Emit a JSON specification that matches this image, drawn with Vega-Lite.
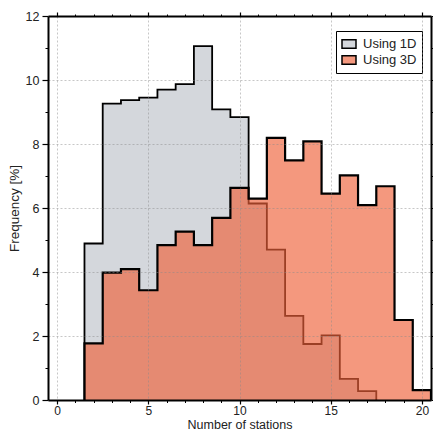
{
  "$schema": "https://vega.github.io/schema/vega-lite/v6.json",
  "autosize": {"type": "none"},
  "padding": {"left": 48, "top": 16, "right": 2, "bottom": 34},
  "width": 383,
  "height": 384,
  "background": "white",
  "config": {
    "view": {"stroke": null},
    "font": "Liberation Sans",
    "axis": {"labelFont": "Liberation Sans", "titleFont": "Liberation Sans", "labelColor": "#222", "titleColor": "#222", "titleFontWeight": "normal"}
  },
  "datasets": {
    "hist": [
      {"method": "1D", "i": 0, "x": 1.5, "freq": 0},
      {"method": "1D", "i": 1, "x": 1.5, "freq": 4.89},
      {"method": "1D", "i": 2, "x": 2.5, "freq": 9.26},
      {"method": "1D", "i": 3, "x": 3.5, "freq": 9.37},
      {"method": "1D", "i": 4, "x": 4.5, "freq": 9.45},
      {"method": "1D", "i": 5, "x": 5.5, "freq": 9.70},
      {"method": "1D", "i": 6, "x": 6.5, "freq": 9.87},
      {"method": "1D", "i": 7, "x": 7.5, "freq": 11.06},
      {"method": "1D", "i": 8, "x": 8.5, "freq": 9.08},
      {"method": "1D", "i": 9, "x": 9.5, "freq": 8.84},
      {"method": "1D", "i": 10, "x": 10.5, "freq": 6.14},
      {"method": "1D", "i": 11, "x": 11.5, "freq": 4.70},
      {"method": "1D", "i": 12, "x": 12.5, "freq": 2.63},
      {"method": "1D", "i": 13, "x": 13.5, "freq": 1.75},
      {"method": "1D", "i": 14, "x": 14.5, "freq": 2.02},
      {"method": "1D", "i": 15, "x": 15.5, "freq": 0.66},
      {"method": "1D", "i": 16, "x": 16.5, "freq": 0.28},
      {"method": "1D", "i": 17, "x": 17.5, "freq": 0},
      {"method": "3D", "i": 0, "x": 1.5, "freq": 0},
      {"method": "3D", "i": 1, "x": 1.5, "freq": 1.77},
      {"method": "3D", "i": 2, "x": 2.5, "freq": 3.98},
      {"method": "3D", "i": 3, "x": 3.5, "freq": 4.09},
      {"method": "3D", "i": 4, "x": 4.5, "freq": 3.43},
      {"method": "3D", "i": 5, "x": 5.5, "freq": 4.84},
      {"method": "3D", "i": 6, "x": 6.5, "freq": 5.26},
      {"method": "3D", "i": 7, "x": 7.5, "freq": 4.84},
      {"method": "3D", "i": 8, "x": 8.5, "freq": 5.69},
      {"method": "3D", "i": 9, "x": 9.5, "freq": 6.63},
      {"method": "3D", "i": 10, "x": 10.5, "freq": 6.29},
      {"method": "3D", "i": 11, "x": 11.5, "freq": 8.19},
      {"method": "3D", "i": 12, "x": 12.5, "freq": 7.49},
      {"method": "3D", "i": 13, "x": 13.5, "freq": 8.08},
      {"method": "3D", "i": 14, "x": 14.5, "freq": 6.45},
      {"method": "3D", "i": 15, "x": 15.5, "freq": 7.02},
      {"method": "3D", "i": 16, "x": 16.5, "freq": 6.09},
      {"method": "3D", "i": 17, "x": 17.5, "freq": 6.68},
      {"method": "3D", "i": 18, "x": 18.5, "freq": 2.50},
      {"method": "3D", "i": 19, "x": 19.5, "freq": 0.31},
      {"method": "3D", "i": 20, "x": 20.5, "freq": 0}
    ],
    "legendrows": [
      {"k": "Using 1D"},
      {"k": "Using 3D"}
    ]
  },
  "layer": [
    {
      "data": {"name": "hist"},
      "transform": [{"filter": "datum.method === '1D' && datum.i > 0"}],
      "mark": {"type": "area", "interpolate": "step-after", "color": "#d4d7dc", "opacity": 1, "clip": true},
      "encoding": {
        "x": {"field": "x", "type": "quantitative", "scale": {"domain": [-0.5, 20.5], "nice": false, "zero": false},
          "axis": {"orient": "bottom", "values": [0, 5, 10, 15, 20], "title": "Number of stations", "titleFontSize": 12.5, "titlePadding": 2,
            "labelFontSize": 12, "labelPadding": 1, "tickSize": 4, "tickColor": "black", "tickWidth": 1.2,
            "domainColor": "black", "domainWidth": 2, "grid": true, "gridColor": "#888", "gridDash": [2, 2], "gridOpacity": 0.6, "gridWidth": 0.8, "zindex": 1}},
        "y": {"field": "freq", "type": "quantitative", "stack": null, "scale": {"domain": [0, 12], "nice": false},
          "axis": {"orient": "left", "values": [0, 2, 4, 6, 8, 10, 12], "title": "Frequency [%]", "titleFontSize": 13.5, "titlePadding": 4,
            "labelFontSize": 12.5, "labelPadding": 3, "tickSize": 6, "tickColor": "black", "tickWidth": 1.2,
            "domainColor": "black", "domainWidth": 2, "grid": true, "gridColor": "#888", "gridDash": [2, 2], "gridOpacity": 0.6, "gridWidth": 0.8, "zindex": 1}}
      }
    },
    {
      "data": {"name": "hist"},
      "transform": [{"filter": "datum.method === '1D'"}],
      "mark": {"type": "line", "interpolate": "step-after", "color": "black", "strokeWidth": 1.8, "clip": true},
      "encoding": {
        "x": {"field": "x", "type": "quantitative",
          "axis": {"orient": "bottom", "values": [0,1,2,3,4,5,6,7,8,9,10,11,12,13,14,15,16,17,18,19,20], "labels": false, "title": null, "domain": false, "grid": false, "tickSize": 2.5, "tickColor": "black", "tickWidth": 1}},
        "y": {"field": "freq", "type": "quantitative",
          "axis": {"orient": "left", "values": [1,3,5,7,9,11], "labels": false, "title": null, "domain": false, "grid": false, "tickSize": 3, "tickColor": "black", "tickWidth": 1}},
        "order": {"field": "i", "type": "quantitative"}
      }
    },
    {
      "data": {"name": "hist"},
      "transform": [{"filter": "datum.method === '3D' && datum.i > 0"}],
      "mark": {"type": "area", "interpolate": "step-after", "color": "#ee6139", "opacity": 0.65, "clip": true},
      "encoding": {
        "x": {"field": "x", "type": "quantitative",
          "axis": {"orient": "top", "values": [0, 5, 10, 15, 20], "labels": false, "title": null, "domainColor": "black", "domainWidth": 2, "grid": false, "tickSize": 4, "tickColor": "black", "tickWidth": 1.2, "zindex": 1}},
        "y": {"field": "freq", "type": "quantitative", "stack": null,
          "axis": {"orient": "right", "values": [0, 2, 4, 6, 8, 10, 12], "labels": false, "title": null, "domainColor": "black", "domainWidth": 2, "grid": false, "tickSize": 4, "tickColor": "black", "tickWidth": 1.2, "zindex": 1}}
      }
    },
    {
      "data": {"name": "hist"},
      "transform": [{"filter": "datum.method === '3D'"}],
      "mark": {"type": "line", "interpolate": "step-after", "color": "black", "strokeWidth": 2.2, "clip": true},
      "encoding": {
        "x": {"field": "x", "type": "quantitative",
          "axis": {"orient": "top", "values": [0,1,2,3,4,5,6,7,8,9,10,11,12,13,14,15,16,17,18,19,20], "labels": false, "title": null, "domain": false, "grid": false, "tickSize": 2, "tickColor": "black", "tickWidth": 1}},
        "y": {"field": "freq", "type": "quantitative",
          "axis": {"orient": "right", "values": [1,3,5,7,9,11], "labels": false, "title": null, "domain": false, "grid": false, "tickSize": 2, "tickColor": "black", "tickWidth": 1}},
        "order": {"field": "i", "type": "quantitative"}
      }
    },
    {
      "data": {"name": "legendrows"},
      "mark": {"type": "point", "opacity": 0, "shape": "square"},
      "encoding": {
        "fill": {"field": "k", "type": "nominal",
          "scale": {"domain": ["Using 1D", "Using 3D"], "range": ["#d4d7dc", "#f4987e"]},
          "legend": {"orient": "none", "legendX": 288, "legendY": 15, "title": null,
            "strokeColor": "black", "fillColor": "white", "padding": 5,
            "symbolType": "M-1,-0.6H1V0.6H-1Z", "symbolSize": 196, "symbolOpacity": 1,
            "symbolStrokeColor": "black", "symbolStrokeWidth": 1.5,
            "labelFont": "Liberation Sans", "labelFontSize": 13, "labelColor": "#222", "labelOffset": 6, "rowPadding": 0}}
      }
    }
  ],
  "resolve": {"axis": {"x": "independent", "y": "independent"}}
}
